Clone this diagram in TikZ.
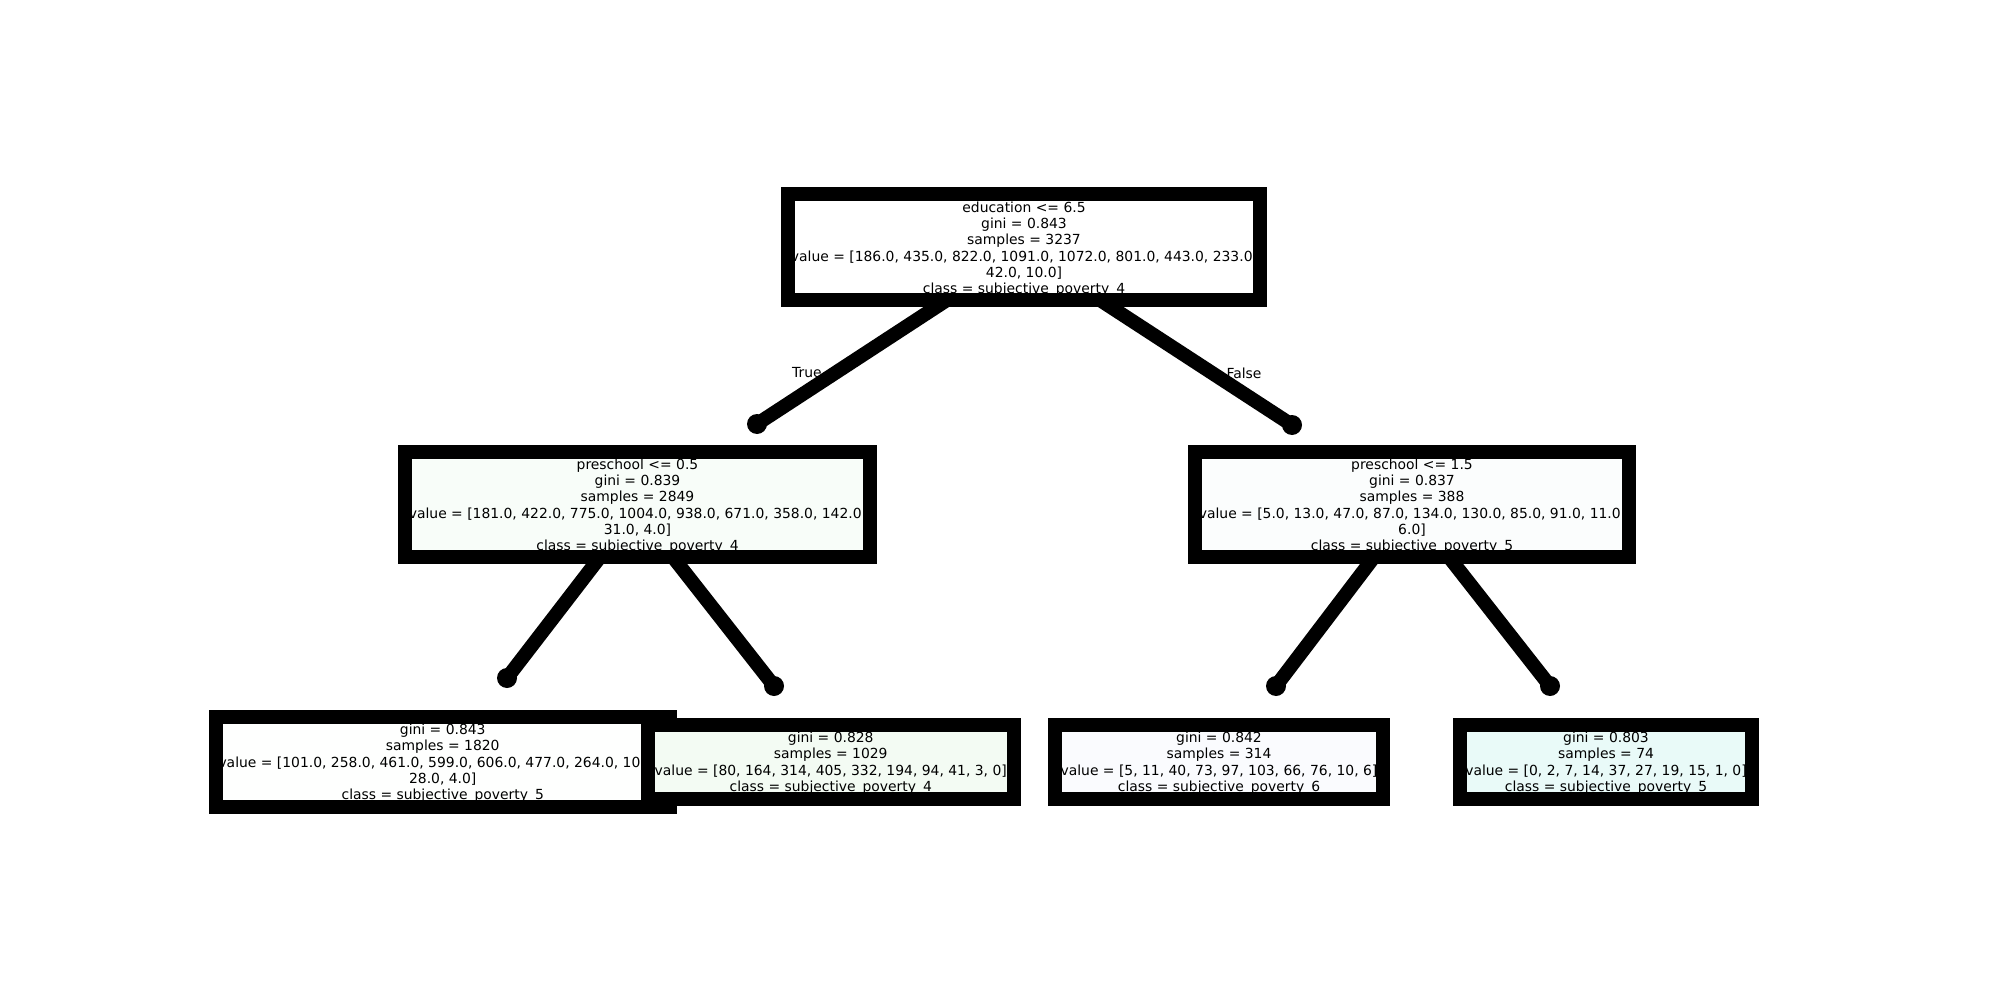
\documentclass[tikz,border=0pt]{standalone}
\usepackage{fontspec}
\setmainfont{DejaVu Sans}
\definecolor{fillroot}{RGB}{255,255,255}
\definecolor{fillla}{RGB}{248,253,249}
\definecolor{filllb}{RGB}{251,253,253}
\definecolor{fillba}{RGB}{254,255,254}
\definecolor{fillbb}{RGB}{243,251,243}
\definecolor{fillbc}{RGB}{250,251,254}
\definecolor{fillbd}{RGB}{233,250,248}
\tikzset{
  boxfill/.style={rectangle, draw=none, inner sep=0pt, outer sep=0pt},
  boxtext/.style={align=center, inner sep=0pt, yshift=-2pt, font=\fontsize{13.9pt}{16.3pt}\selectfont},
  boxborder/.style={line width=14pt, draw=black},
  edgeline/.style={line width=14pt, draw=black},
  blob/.style={circle, fill=black, draw=none, minimum size=20pt, inner sep=0pt},
  edgelabel/.style={inner sep=0pt, font=\fontsize{13.9pt}{16.3pt}\selectfont},
}
% #1 name, #2 centre, #3 width, #4 height, #5 fill colour, #6 text
\newcommand{\treebox}[6]{%
  \node[boxfill, fill=#5, minimum width=#3, minimum height=#4] (#1) at #2 {};
  \begin{scope}
    \clip ([shift={(7pt,7pt)}]#1.south west) rectangle ([shift={(-7pt,-7pt)}]#1.north east);
    \node[boxtext] (#1-text) at (#1.center) {#6};
  \end{scope}
  \draw[boxborder] (#1.south west) rectangle (#1.north east);
}
\begin{document}
\begin{tikzpicture}[x=1pt,y=-1pt]
\fill[white] (0,0) rectangle (2000,1000);
\useasboundingbox (0,0) rectangle (2000,1000);

% connector start points (inside parent boxes) and blobs
\coordinate (s1) at (969,285.6);
\coordinate (s2) at (1077.9,285.6);
\coordinate (s3) at (615.3,537.2);
\coordinate (s4) at (657.5,537.4);
\coordinate (s5) at (1389.2,537.1);
\coordinate (s6) at (1433.5,537.4);
\node[blob] (b1) at (757,424) {};
\node[blob] (b2) at (1292,425) {};
\node[blob] (b3) at (507,678) {};
\node[blob] (b4) at (774,686) {};
\node[blob] (b5) at (1276,686) {};
\node[blob] (b6) at (1550,686) {};
\draw[edgeline] (s1) -- (b1.center);
\draw[edgeline] (s2) -- (b2.center);
\draw[edgeline] (s3) -- (b3.center);
\draw[edgeline] (s4) -- (b4.center);
\draw[edgeline] (s5) -- (b5.center);
\draw[edgeline] (s6) -- (b6.center);

\node[edgelabel] (ltrue) at (807,373) {True};
\node[edgelabel] (lfalse) at (1244,373) {False};

\treebox{root}{(1024,247.5)}{472pt}{106pt}{fillroot}{education <= 6.5\\gini = 0.843\\samples = 3237\\value = [186.0, 435.0, 822.0, 1091.0, 1072.0, 801.0, 443.0, 233.0\phantom{,}\\42.0, 10.0]\\class = subjective\_poverty\_4}

\treebox{la}{(637.5,504.25)}{465pt}{105.5pt}{fillla}{preschool <= 0.5\\gini = 0.839\\samples = 2849\\value = [181.0, 422.0, 775.0, 1004.0, 938.0, 671.0, 358.0, 142.0\phantom{,}\\31.0, 4.0]\\class = subjective\_poverty\_4}

\treebox{lb}{(1412,504.25)}{434pt}{105.5pt}{filllb}{preschool <= 1.5\\gini = 0.837\\samples = 388\\value = [5.0, 13.0, 47.0, 87.0, 134.0, 130.0, 85.0, 91.0, 11.0\phantom{,}\\6.0]\\class = subjective\_poverty\_5}

\treebox{ba}{(442.75,761.5)}{454.5pt}{90pt}{fillba}{gini = 0.843\\samples = 1820\\value = [101.0, 258.0, 461.0, 599.0, 606.0, 477.0, 264.0, 10\phantom{0.0,}\\28.0, 4.0]\\class = subjective\_poverty\_5}

\treebox{bb}{(830.75,761.5)}{365.5pt}{74pt}{fillbb}{gini = 0.828\\samples = 1029\\value = [80, 164, 314, 405, 332, 194, 94, 41, 3, 0]\\class = subjective\_poverty\_4}

\treebox{bc}{(1219,761.5)}{328pt}{74pt}{fillbc}{gini = 0.842\\samples = 314\\value = [5, 11, 40, 73, 97, 103, 66, 76, 10, 6]\\class = subjective\_poverty\_6}

\treebox{bd}{(1606,761.5)}{292pt}{74pt}{fillbd}{gini = 0.803\\samples = 74\\value = [0, 2, 7, 14, 37, 27, 19, 15, 1, 0]\\class = subjective\_poverty\_5}
\end{tikzpicture}
\end{document}
